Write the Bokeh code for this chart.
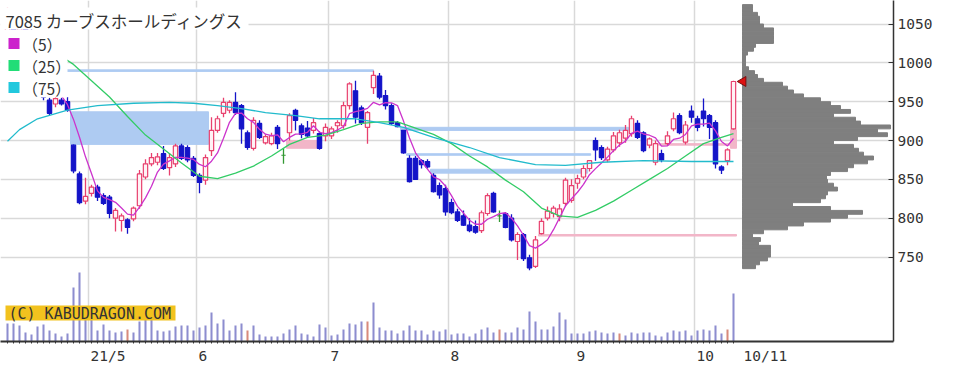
import numpy as np
import pandas as pd
from bokeh.plotting import figure
from bokeh.models import Range1d, FixedTicker
from bokeh.core.properties import value
from bokeh.embed import file_html
from bokeh.resources import INLINE

# ---------------- data ----------------
title_text = "7085 カーブスホールディングス"
ma_labels = ["（5）", "（25）", "（75）"]
copyright_text = "(C) KABUDRAGON.COM"

# daily candles, 2021-04-09 .. 2021-10-11 (trading-day index 0..121)
opens = [1038,1050,1042,1046,1038,1030,985,952,947,952, 950,894,857,822,832,840,829,827,800,797,
         798,799,816,853,870,872,883,865,870,893, 891,877,855,849,887,913,935,939,949,945,
         910,890,922,897,896,917,881,910,939,919, 916,913,909,906,906,919,919,945,964,942,
         917,968,983,958,945,923,913,877,877,874, 873,855,842,838,820,808,803,791,789,784,
         806,832,803,806,800,770,779,749,738,780, 800,806,802,819,823,845,853,864,900,891,
         875,888,897,903,909,922,910,894,872,883, 896,915,932,898,938,928,938,932,923,866,
         874,915]
highs = [1071,1058,1050,1052,1044,1032,989,955,957,955, 956,895,860,852,843,843,832,830,813,806,
         800,815,862,876,884,884,893,884,896,896, 894,880,858,882,930,932,955,952,962,947,
         913,930,926,908,910,920,890,935,941,922, 925,929,912,922,918,926,950,975,977,945,
         938,990,987,965,948,925,913,881,880,876, 876,858,846,843,825,812,810,800,797,810,
         832,834,810,808,805,782,781,753,777,800, 815,816,818,852,850,856,868,875,904,894,
         892,911,914,920,932,926,912,904,900,888, 912,936,935,925,945,932,954,934,926,868,
         890,977]
lows = [1030,1038,1032,1035,1025,991,952,933,943,945, 937,858,818,818,828,822,817,800,783,783,
        780,796,812,850,867,868,862,855,866,875, 872,853,832,843,880,910,930,935,933,896,
        888,887,902,895,894,889,870,900,913,903, 904,909,888,899,902,910,915,940,922,920,
        896,960,953,940,920,917,883,846,849,864, 864,833,825,803,805,795,790,782,780,781,
        803,807,795,787,770,746,745,733,736,779, 797,801,796,815,820,838,850,860,874,875,
        872,885,892,897,905,902,885,890,868,872, 893,912,908,895,923,912,918,902,864,857,
        868,914]
closes = [1050,1042,1046,1038,1030,996,956,935,954,947, 939,861,820,828,840,827,819,806,810,803,
          788,813,857,870,878,879,864,878,893,877, 875,855,846,878,913,928,949,949,936,915,
          891,926,904,905,906,896,881,932,926,908, 906,923,890,917,915,923,945,973,930,923,
          936,984,956,945,922,918,884,847,850,869, 866,834,830,808,807,797,791,784,782,807,
          829,808,803,788,772,779,748,736,772,796, 809,813,812,849,842,851,864,874,888,878,
          889,906,910,913,928,904,887,902,896,875, 906,928,910,920,930,917,928,917,870,862,
          888,976]
# volume (10k shares)
volume = [18,18,16,9,7,15,17,11,8,5, 8,54,69,24,22,11,17,11,9,10,
          12,9,20,22,22,11,10,11,15,16, 16,11,14,16,29,18,22,11,16,18,
          11,16,7,5,5,5,8,12,16,8, 7,5,17,14,6,7,12,18,17,20,
          20,39,14,11,11,8,11,16,11,11, 7,11,10,12,7,8,8,5,8,12,
          14,9,12,9,9,14,12,30,20,12, 12,15,29,22,8,8,8,10,11,9,
          8,9,8,6,9,8,9,9,6,5, 9,11,10,11,6,11,12,11,16,8,
          12,48]
vol_marked = [20, 40, 60, 82, 102, 120]

# moving averages (trading-day index, price)
ma25_idx = [3,5,8,11,14,17,20,23,26,29,32,35,38,41,44,47,50,53,56,59,62,65,68,71,74,77,80,83,86,89,
            92,95,98,101,104,107,110,113,116,119,121]
ma25_val = [1011,1015,1013,998,977,956,931,907,889,871,854,851,858,867,880,895,904,907,914,922,
            924,924,916,908,896,880,866,849,834,813,803,801,810,822,836,850,864,880,896,904,909]
ma75_idx = [0,2,5,10,15,21,27,31,35,39,43,48,52,58,62,66,71,77,82,88,93,99,106,114,121]
ma75_val = [899,914,928,939,945,948,949,948,945,941,936,932,928,928,923,917,904,891,878,869,
            868,872,874,873,873]

# price gaps (windows)
gap_start = [5.5, 10.5, 46.5, 65.5, 66.5, 70.5, 88.5, 108.5, 120.5]
gap_end = [61, 33.5, 52, 103.5, 97.2, 96.7, 121.5, 121.5, 121.5]
gap_lo = [989, 895, 890, 913, 881, 858, 777, 894, 890]
gap_hi = [991, 937, 900, 917, 883, 863, 779, 896, 914]
gap_up = [False, False, True, False, False, False, True, True, True]

# price-by-volume profile, 5-yen bins from 735
prof_lo = list(range(735, 1075, 5))
prof_vol = [13,17,25,28,28,28,16,18,10,21, 45,61,88,105,120,88,50,78,83,85,
            95,91,85,84,88,105,111,125,131,121, 116,111,91,115,145,135,148,118,113,91,
            108,98,88,78,61,51,45,40,21,15, 12,6,3,3,3,5,11,13,31,31,
            31,31,21,17,17,15,10,10]
assert len(prof_vol) == len(prof_lo)

month_start = [14, 32, 54, 74, 95, 115]
month_labels = ["21/5", "6", "7", "8", "9", "10"]
last_label = "10/11"
price_ticks = [750, 800, 850, 900, 950, 1000, 1050]

# ---------------- layout ----------------
n = len(closes)
idx = np.arange(n)
FW, FH = 893, 341
X0, X1 = -7 / 6, 886 / 6
Y0, Y1 = 641.2, 1080.3
PX = (X1 - X0) / FW  # index units per pixel

def px_x(px):
    return X0 + px * PX

def px_y(py):
    return Y1 - py * (Y1 - Y0) / FH

p = figure(frame_width=FW, frame_height=FH,
           x_range=Range1d(X0, X1), y_range=Range1d(Y0, Y1),
           output_backend="svg", toolbar_location=None, y_axis_location="right",
           min_border_left=0, min_border_top=0, min_border_right=59, min_border_bottom=30,
           background_fill_color="white", border_fill_color="white", outline_line_color=None)
p.extra_y_ranges = {"vol": Range1d(0, FH)}
p.extra_x_ranges = {"prof": Range1d(-742, FW - 742)}

grid_pos = [m - 0.5 for m in month_start]
p.xgrid.ticker = FixedTicker(ticks=grid_pos)
p.ygrid.ticker = FixedTicker(ticks=price_ticks)
p.grid.grid_line_color = "#d9d9d9"
p.grid.grid_line_width = 1.5

label_font = "DejaVu Sans Mono"
CHAR_W = 8.73  # px per character at 14.5px
# labels start just right of the month line: put each tick at the label's centre
lab_pos = [g + (2 + len(l) * CHAR_W / 2) * PX for g, l in zip(grid_pos, month_labels)]
last_pos = px_x(743 + len(last_label) * CHAR_W / 2)
p.xaxis.ticker = FixedTicker(ticks=lab_pos + [last_pos], minor_ticks=list(range(n)))
p.xaxis.major_label_overrides = {**{t: l for t, l in zip(lab_pos, month_labels)}, last_pos: last_label}
p.xaxis.major_label_standoff = 4
p.xaxis.major_tick_in = 0
p.xaxis.major_tick_out = 0
p.xaxis.minor_tick_in = 0
p.xaxis.minor_tick_out = 2
p.xaxis.minor_tick_line_color = "#333333"
p.xaxis.axis_line_width = 2
p.yaxis.ticker = FixedTicker(ticks=price_ticks)
p.yaxis.major_tick_in = 5
p.yaxis.major_tick_out = 0
p.yaxis.minor_tick_line_color = None
p.yaxis.major_label_standoff = 4
p.yaxis.axis_line_width = 1.5
for ax in (p.xaxis, p.yaxis):
    ax.axis_line_color = "#333333"
    ax.major_tick_line_color = "#333333"
    ax.major_label_text_font = label_font
    ax.major_label_text_font_size = "14.5px"
    ax.major_label_text_color = "#333333"

# volume profile
p.hbar(y=[v + 2.5 for v in prof_lo], left=0, right=prof_vol, height=5,
       x_range_name="prof", fill_color="#7f7f7f", line_color="#7f7f7f", line_width=1)

# gaps
gap_col = ["#f2b6c8" if u else "#aecbf2" for u in gap_up]
p.quad(left=gap_start, right=gap_end, bottom=gap_lo, top=gap_hi,
       fill_color=gap_col, line_color=gap_col, line_width=1)

# volume bars
vcol = ["#d88a7c" if i in vol_marked else "#8d8dcf" for i in range(n)]
p.vbar(x=idx, top=volume, bottom=0, width=0.34, y_range_name="vol",
       fill_color=vcol, line_color=None)

# candles
UP, DOWN, DOJI = "#e8406e", "#1414c8", "#339933"
ccol, fcol = [], []
for o, c in zip(opens, closes):
    if c > o:
        ccol.append(UP); fcol.append("#fff2f5")
    elif c < o:
        ccol.append(DOWN); fcol.append(DOWN)
    else:
        ccol.append(DOJI); fcol.append(DOJI)
p.segment(x0=idx, y0=lows, x1=idx, y1=highs, line_color=ccol, line_width=1.3)
p.vbar(x=idx, width=0.72, top=np.maximum(opens, closes), bottom=np.minimum(opens, closes),
       fill_color=fcol, line_color=ccol, line_width=1.2)

# moving averages
ma5 = pd.Series(closes, dtype=float).rolling(5).mean()
p.line(idx, ma5, line_color="#cc33cc", line_width=1.3)
p.line(ma25_idx, ma25_val, line_color="#33cc66", line_width=1.3)
p.line(ma75_idx, ma75_val, line_color="#22bbcc", line_width=1.3)

# last price marker
p.scatter(x=[px_x(742.5)], y=[closes[-1]], marker="triangle", angle=np.pi / 2, size=10,
          fill_color="#dd1111", line_color="#771111", line_width=1)

# title / legend boxes
p.quad(left=[px_x(0), px_x(0)], right=[px_x(248), px_x(67)],
       top=[px_y(7), px_y(29)], bottom=[px_y(29), px_y(97)],
       fill_color="white", line_color=None)
p.text(x=[px_x(5)], y=[px_y(20)], text=[title_text], text_font=value("Noto Sans CJK JP"),
       text_font_size="16.5px", text_baseline="middle", text_color="#333333")
sw_y = [px_y(43), px_y(65), px_y(87)]
p.scatter(x=[px_x(13.5)] * 3, y=sw_y, marker="square", size=11,
          fill_color=["#cc22cc", "#22dd77", "#22c8dd"], line_color=None)
p.text(x=[px_x(22)] * 3, y=sw_y, text=ma_labels, text_font=value("Noto Sans CJK JP"),
       text_font_size="15.5px", text_baseline="middle", text_color="#333333")

# copyright badge
p.quad(left=[px_x(5)], right=[px_x(175)], top=[px_y(305)], bottom=[px_y(320)],
       fill_color="#f2c21e", line_color=None)
p.text(x=[px_x(8)], y=[px_y(313)], text=[copyright_text], text_font=value(label_font),
       text_font_size="15px", text_baseline="middle", text_color="#333333")

open("out.html", "w").write(file_html(p, INLINE))
